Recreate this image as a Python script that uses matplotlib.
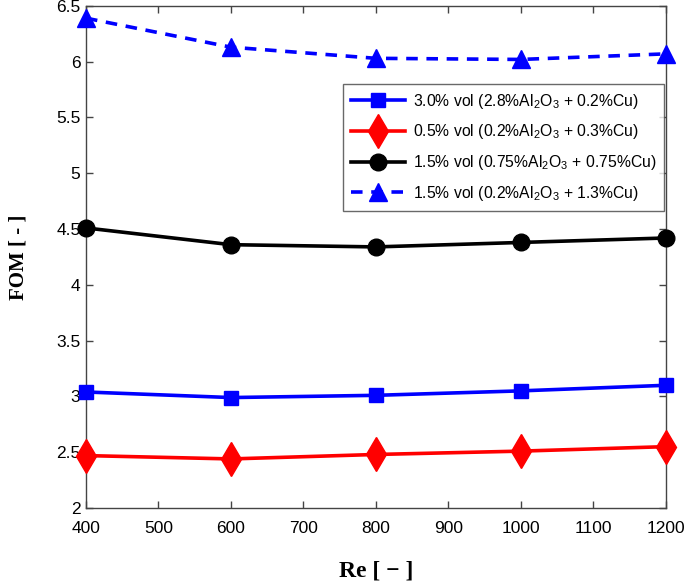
import matplotlib
matplotlib.use("Agg")
import matplotlib.pyplot as plt

plt.rcParams['font.family'] = ['Liberation Sans', 'DejaVu Sans']
plt.rcParams['mathtext.fontset'] = 'custom'
plt.rcParams['mathtext.rm'] = 'Liberation Sans'
plt.rcParams['mathtext.it'] = 'Liberation Sans:italic'
plt.rcParams['mathtext.bf'] = 'Liberation Sans:bold'

re_vals = [400, 600, 800, 1000, 1200]
fom_30 = [3.04, 2.99, 3.01, 3.05, 3.10]
fom_05 = [2.47, 2.44, 2.48, 2.51, 2.55]
fom_15a = [4.51, 4.36, 4.34, 4.38, 4.42]
fom_15b = [6.39, 6.13, 6.03, 6.02, 6.07]

labels = [
    r'3.0% vol (2.8%Al$_2$O$_3$ + 0.2%Cu)',
    r'0.5% vol (0.2%Al$_2$O$_3$ + 0.3%Cu)',
    r'1.5% vol (0.75%Al$_2$O$_3$ + 0.75%Cu)',
    r'1.5% vol (0.2%Al$_2$O$_3$ + 1.3%Cu)',
]
xticks = [400, 500, 600, 700, 800, 900, 1000, 1100, 1200]
yticks = [2, 2.5, 3, 3.5, 4, 4.5, 5, 5.5, 6, 6.5]
yticklabels = ['2', '2.5', '3', '3.5', '4', '4.5', '5', '5.5', '6', '6.5']

fig = plt.figure(figsize=(6.85, 5.88), dpi=100)
ax = fig.add_axes([0.1255, 0.136, 0.8465, 0.854])

lw = 2.6
ax.plot(re_vals, fom_30, color='#0000ff', lw=lw, marker='s', ms=10, label=labels[0], clip_on=False, zorder=3)
ax.plot(re_vals, fom_05, color='#ff0000', lw=lw, marker='d', ms=17, label=labels[1], clip_on=False, zorder=3)
ax.plot(re_vals, fom_15a, color='black', lw=lw, marker='o', ms=12, label=labels[2], clip_on=False, zorder=3)
ax.plot(re_vals, fom_15b, color='#0000ff', lw=lw, ls=(0, (3.2, 2.4)), marker='^', ms=13,
        label=labels[3], clip_on=False, zorder=3)

ax.set_xlim(400, 1200)
ax.set_ylim(2, 6.5)
ax.set_xticks(xticks)
ax.set_yticks(yticks)
ax.set_yticklabels(yticklabels)
ax.tick_params(direction='in', top=True, right=True, labelsize=12.5, length=5, width=1, color='#444444')
ax.tick_params(axis='x', pad=9)
ax.tick_params(axis='y', pad=4)
for s in ax.spines.values():
    s.set_color('#444444')
    s.set_linewidth(1)

ax.set_ylabel('FOM [ - ]', family='Liberation Serif', fontweight='bold', fontsize=15, labelpad=20)
ax.set_xlabel('Re [ − ]', family='Liberation Serif', fontweight='bold', fontsize=17, labelpad=18)

leg = ax.legend(loc='upper right', bbox_to_anchor=(0.9966, 0.845), fontsize=11.3, frameon=True,
                fancybox=False, edgecolor='#444444', handlelength=3.4, borderpad=0.5,
                labelspacing=0.75, handletextpad=0.5, borderaxespad=0)
leg.get_frame().set_linewidth(1)

fig.savefig('out.png', dpi=100)
